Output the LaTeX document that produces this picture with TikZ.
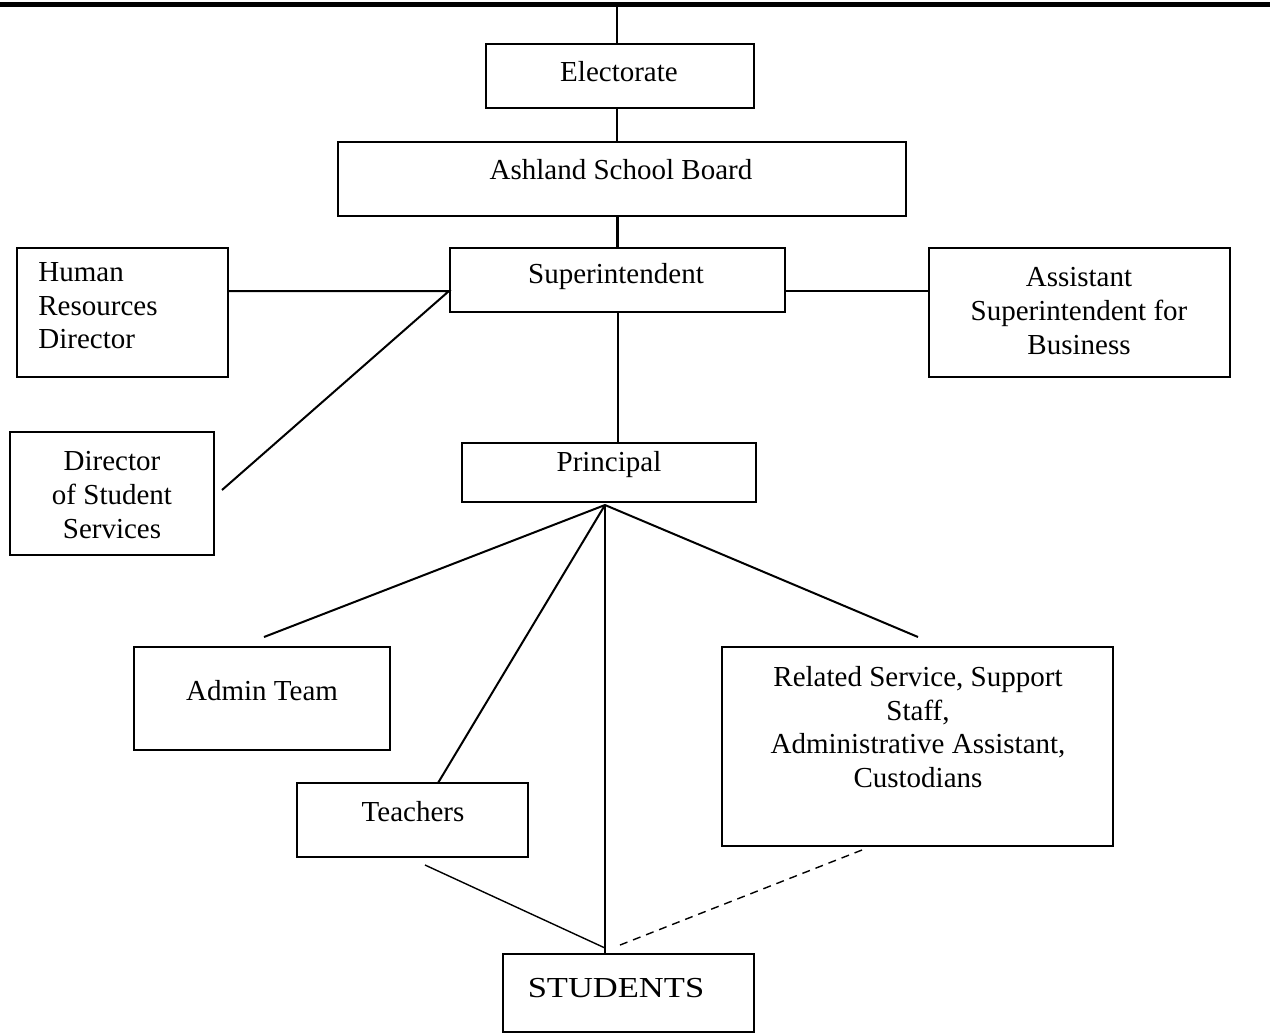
\documentclass[tikz,border=0pt]{standalone}
\usepackage{fontspec}
\setmainfont{Liberation Serif}
\tikzset{box/.style={draw,line width=1pt,inner sep=0pt},
  link/.style={line width=1pt},
  txt/.style={inner sep=0pt,align=center}}
\begin{document}
\begin{tikzpicture}[x=.5pt,y=-.5pt,font=\fontsize{14.5}{16.8}\selectfont]
\useasboundingbox(0,0)rectangle(1270,1034);
\draw[line width=2.5pt](0,4.5)--(1270,4.5);
% boxes
\node[box,minimum width=134pt,minimum height=32pt](elect)at(620,76){};
\node[box,minimum width=284pt,minimum height=37pt](board)at(622,179){};
\node[box,minimum width=167.5pt,minimum height=32pt](supt)at(617.5,280){};
\node[box,minimum width=105.5pt,minimum height=64.5pt](hr)at(122.5,312.5){};
\node[box,minimum width=102pt,minimum height=61.5pt](dss)at(112,493.5){};
\node[box,minimum width=150.5pt,minimum height=64.5pt](asb)at(1079.5,312.5){};
\node[box,minimum width=147pt,minimum height=29.5pt](prin)at(609,472.5){};
\node[box,minimum width=128pt,minimum height=51.5pt](admin)at(262,698.5){};
\node[box,minimum width=115.5pt,minimum height=37pt](teach)at(412.5,820){};
\node[box,minimum width=195.5pt,minimum height=99.5pt](rel)at(917.5,746.5){};
\node[box,minimum width=125.5pt,minimum height=39pt](stud)at(628.5,993){};
% texts
\node[txt](elect-t)at(619,72){Electorate};
\node[txt](board-t)at(621,170){Ashland School Board};
\node[txt](supt-t)at(616,277){Superintendent};
\node[txt,anchor=west,align=left](hr-t)at(38,306){Human\\Resources\\Director};
\node[txt](dss-t)at(112,495){Director\\of Student\\Services};
\node[txt](asb-t)at(1079,311){Assistant\\Superintendent for\\Business};
\node[txt](prin-t)at(609,465){Principal};
\node[txt](admin-t)at(262,691){Admin Team};
\node[txt](teach-t)at(413,812){Teachers};
\node[txt](rel-t)at(918,727){Related Service, Support\\Staff,\\Administrative Assistant,\\Custodians};
\node[txt](stud-t)at(616,988){\scalebox{1.19}[1]{STUDENTS}};
% free ends
\coordinate(top)at(617,7);
\coordinate(sj)at(449,291);
\coordinate(dEnd)at(222,490);
\coordinate(fan)at(605,505);
\coordinate(aEnd)at(264,637);
\coordinate(tEnd)at(438,783);
\coordinate(rEnd)at(918,637);
\coordinate(tsA)at(425,865);
\coordinate(tsB)at(605,948);
\coordinate(rsA)at(862,850);
\coordinate(rsB)at(615,947);
% links
\draw[link](top)--(top|-elect.north);
\draw[link](elect.south-|top)--(top|-board.north);
\draw[link,line width=1.5pt](supt.north)--(supt.north|-board.south);
\draw[link](hr.east|-sj)--(sj)--(dEnd);
\draw[link](supt.east|-sj)--(asb.west|-sj);
\draw[link](supt.south)--(supt.south|-prin.north);
\foreach \e in {aEnd,tEnd,rEnd}{\draw[link](fan)--(\e);}
\draw[link](fan)--(fan|-stud.north);
\draw[line width=.7pt](tsA)--(tsB);
\draw[line width=.7pt,dash pattern=on 4pt off 3pt](rsA)--(rsB);
\end{tikzpicture}
\end{document}
